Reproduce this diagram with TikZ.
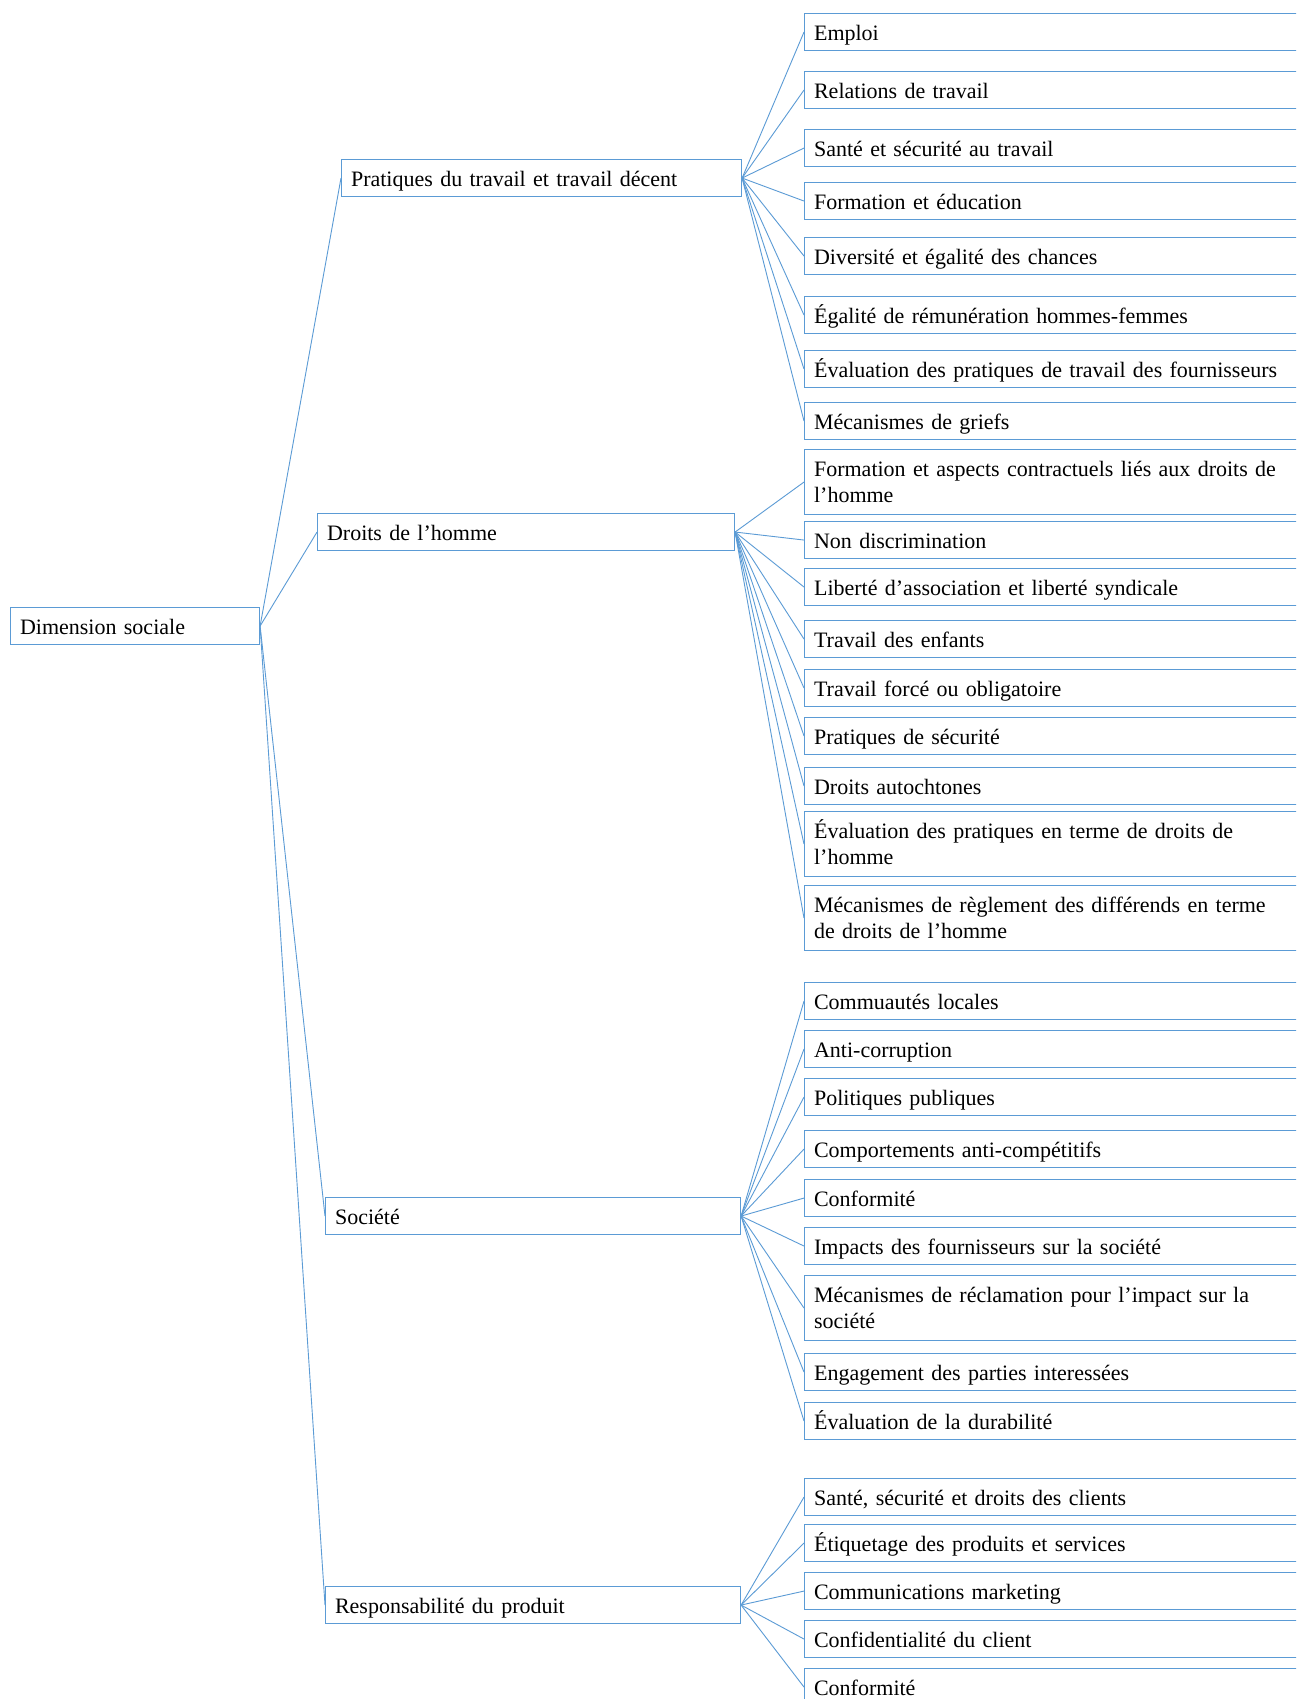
\documentclass[tikz,border=0pt]{standalone}
\usepackage{fontspec}
\setmainfont{Liberation Serif}[WordSpace=1.4]
\definecolor{lnk}{RGB}{91,155,213}
\newcommand\twol[2]{\begin{tabular}[t]{@{}l@{}}#1\\#2\end{tabular}}
\tikzset{
 box/.style={draw=lnk, line width=1.1pt, rectangle, anchor=north west, inner xsep=9.5pt, inner ysep=0pt, text height=27pt, text depth=10pt, align=left, font=\fontsize{22}{26}\selectfont},
 leaf/.style={box, text width=520pt},
 two/.style={text depth=38pt},
 link/.style={draw=lnk, line width=0.9pt}
}
\begin{document}
\begin{tikzpicture}[x=1pt,y=-1pt]
\useasboundingbox (0,0) rectangle (1296,1699);
\clip (0,0) rectangle (1296,1699);
\fill[white] (0,0) rectangle (1296,1699);
% root and level 1
\node[box, text width=230pt] (root) at (10,607) {Dimension sociale};
\node[box, text width=381pt] (p1) at (341,159) {Pratiques du travail et travail décent};
\node[box, text width=398pt] (p2) at (317,513) {Droits de l’homme};
\node[box, text width=396pt] (p3) at (325,1197) {Société};
\node[box, text width=396pt] (p4) at (325,1586) {Responsabilité du produit};
% leaves group 1
\node[leaf] (a1) at (804,13) {Emploi};
\node[leaf] (a2) at (804,71) {Relations de travail};
\node[leaf] (a3) at (804,129) {Santé et sécurité au travail};
\node[leaf] (a4) at (804,182) {Formation et éducation};
\node[leaf] (a5) at (804,237) {Diversité et égalité des chances};
\node[leaf] (a6) at (804,296) {Égalité de rémunération hommes-femmes};
\node[leaf] (a7) at (804,350) {Évaluation des pratiques de travail des fournisseurs};
\node[leaf] (a8) at (804,402) {Mécanismes de griefs};
% group 2
\node[leaf, two] (b1) at (804,449) {\twol{Formation et aspects contractuels liés aux droits de}{l’homme}};
\node[leaf] (b2) at (804,521) {Non discrimination};
\node[leaf] (b3) at (804,568) {Liberté d’association et liberté syndicale};
\node[leaf] (b4) at (804,620) {Travail des enfants};
\node[leaf] (b5) at (804,669) {Travail forcé ou obligatoire};
\node[leaf] (b6) at (804,717) {Pratiques de sécurité};
\node[leaf] (b7) at (804,767) {Droits autochtones};
\node[leaf, two] (b8) at (804,811) {\twol{Évaluation des pratiques en terme de droits de}{l’homme}};
\node[leaf, two] (b9) at (804,885) {\twol{Mécanismes de règlement des différends en terme}{de droits de l’homme}};
% group 3
\node[leaf] (c1) at (804,982) {Commuautés locales};
\node[leaf] (c2) at (804,1030) {Anti-corruption};
\node[leaf] (c3) at (804,1078) {Politiques publiques};
\node[leaf] (c4) at (804,1130) {Comportements anti-compétitifs};
\node[leaf] (c5) at (804,1179) {Conformité};
\node[leaf] (c6) at (804,1227) {Impacts des fournisseurs sur la société};
\node[leaf, two] (c7) at (804,1275) {\twol{Mécanismes de réclamation pour l’impact sur la}{société}};
\node[leaf] (c8) at (804,1353) {Engagement des parties interessées};
\node[leaf] (c9) at (804,1402) {Évaluation de la durabilité};
% group 4
\node[leaf] (d1) at (804,1478) {Santé, sécurité et droits des clients};
\node[leaf] (d2) at (804,1524) {Étiquetage des produits et services};
\node[leaf] (d3) at (804,1572) {Communications marketing};
\node[leaf] (d4) at (804,1620) {Confidentialité du client};
\node[leaf] (d5) at (804,1668) {Conformité};
% connectors
\foreach \p in {p1,p2,p3,p4} \draw[link] (root.east) -- (\p.west);
\foreach \i in {1,...,8} \draw[link] (p1.east) -- (a\i.west);
\foreach \i in {1,...,9} \draw[link] (p2.east) -- (b\i.west);
\foreach \i in {1,...,9} \draw[link] (p3.east) -- (c\i.west);
\foreach \i in {1,...,5} \draw[link] (p4.east) -- (d\i.west);
\end{tikzpicture}
\end{document}
